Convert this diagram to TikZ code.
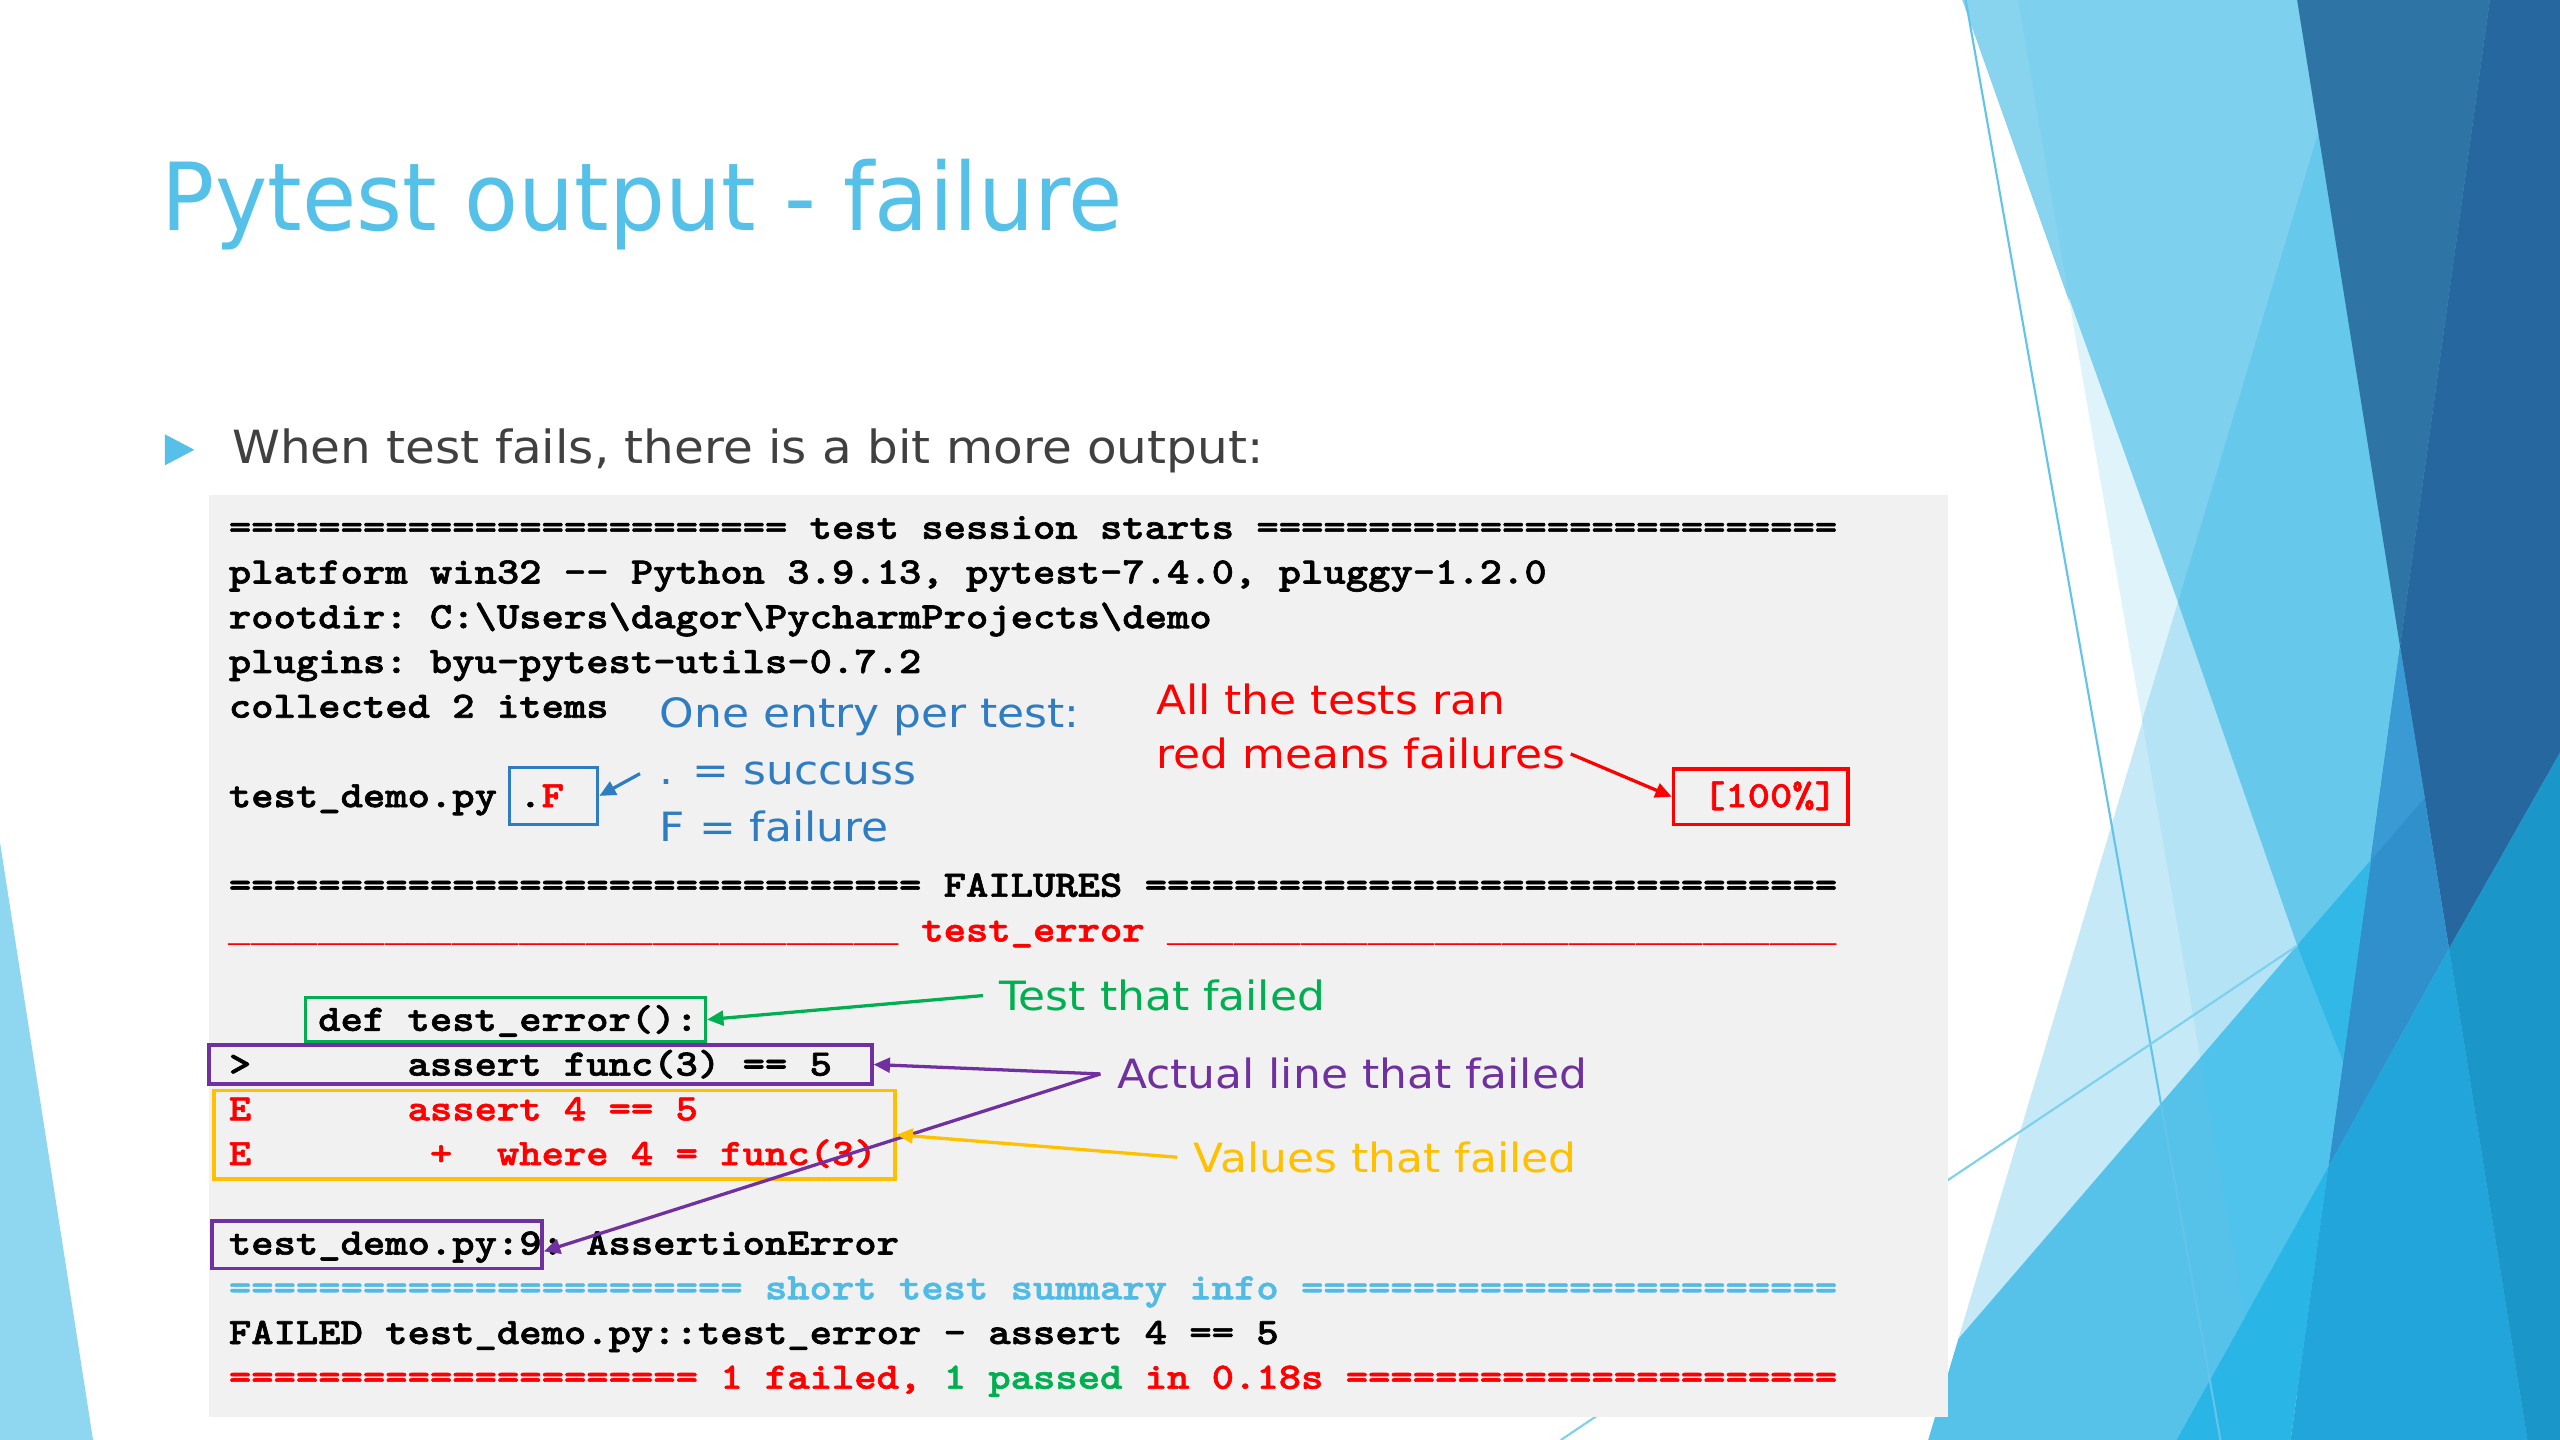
\documentclass[tikz,border=0pt]{standalone}
\usepackage{fontspec}
\setmainfont{DejaVu Sans}[FakeStretch=1.06]
\newfontfamily\notefont{DejaVu Sans}[FakeStretch=1.09]
\newfontfamily\titlefont{DejaVu Sans}[FakeStretch=0.94]
\newfontfamily\codefont{lmmonolt10-bold.otf}[FakeStretch=1.143,FakeBold=1.6]
\newfontfamily\rulefont{Liberation Mono}[FakeStretch=0.9999]
\usetikzlibrary{arrows.meta}
\ExplSyntaxOn
\cs_new:Npn \myrep #1#2 { \prg_replicate:nn {#1} {#2} }
\ExplSyntaxOff
\newcommand\unders[1]{{\rulefont\bfseries\myrep{#1}{\_}}}
\definecolor{ctitle}{HTML}{55C0E8}
\definecolor{cbody}{HTML}{404040}
\definecolor{cgray}{HTML}{F1F1F1}
\definecolor{cred}{HTML}{FF0000}
\definecolor{cgreen}{HTML}{00B050}
\definecolor{cpurple}{HTML}{7030A0}
\definecolor{cyellow}{HTML}{FFC000}
\definecolor{cblue}{HTML}{2E7DC3}
\definecolor{csum}{HTML}{50BCE6}
\definecolor{cA}{HTML}{7DD0EE}
\definecolor{cAs}{HTML}{88D4EF}
\definecolor{cVL}{HTML}{DFF3FB}
\definecolor{cLa}{HTML}{C5E9F6}
\definecolor{cLb}{HTML}{B3E3F5}
\definecolor{cM}{HTML}{66C8EB}
\definecolor{cDa}{HTML}{2E75A6}
\definecolor{cDb}{HTML}{25679E}
\definecolor{cDc}{HTML}{3A9AD4}
\definecolor{cDd}{HTML}{3090CC}
\definecolor{cBa}{HTML}{56C2EA}
\definecolor{cBb}{HTML}{4FC3EB}
\definecolor{cBc}{HTML}{31B8E6}
\definecolor{cTa}{HTML}{29B5E5}
\definecolor{cTb}{HTML}{21A5DA}
\definecolor{cTc}{HTML}{1A96C9}
\definecolor{cW}{HTML}{8FD6F0}
\definecolor{cthin}{HTML}{62C4EA}
\tikzset{
  code/.style={font=\codefont\fontsize{22.8}{27.4}\selectfont\frenchspacing, anchor=base west, inner sep=0pt, text=black},
  note/.style={font=\notefont\fontsize{24.7}{35}\selectfont, anchor=base west, inner sep=0pt},
  hl/.style={draw=#1, line width=2.2pt, inner sep=0pt},
  arr/.style={draw=#1, line width=2pt, -{Triangle[length=10pt,width=9pt]}},
}
\newcommand\codeln[4]{\node[code] (#1) at ({140+13.68*#3},{330+27.4*#2}) {#4};}
\begin{document}
\begin{tikzpicture}[x=1pt,y=-1pt]
\useasboundingbox (0,0) rectangle (1568,882);
\fill[white] (0,0) rectangle (1568,882);
% background decoration
\fill[cW] (0,516) -- (57,882) -- (0,882) -- cycle;
\fill[cA] (1202,0) -- (1568,0) -- (1568,882) -- (1407,882) -- (1407,579) -- cycle;
\fill[cAs] (1202,0) -- (1236,0) -- (1267,182) -- cycle;
\fill[cVL] (1267,182) -- (1334,369) -- (1312,441) -- cycle;
\fill[cLa] (1334,369) -- (1407,579) -- (1199.5,820) -- cycle;
\fill[cLb] (1312,441) -- (1334,369) -- (1407,579) -- (1347.7,648) -- cycle;
\fill[cM] (1420,81) -- (1334,369) -- (1407,579) -- (1568,392) -- (1568,0) -- (1407,0) -- cycle;
\fill[cDa] (1407,0) -- (1525,0) -- (1470,396) -- cycle;
\fill[cDb] (1525,0) -- (1568,0) -- (1568,461) -- (1500,581) -- (1470,396) -- cycle;
\fill[cDd] (1470,396) -- (1500,581) -- (1426,715) -- cycle;
\fill[cDc] (1470,396) -- (1485.2,488.5) -- (1452.2,526.7) -- cycle;
\fill[cBa] (1181,882) -- (1199.5,820) -- (1407,579) -- (1452.2,526.7) -- (1426,715) -- (1333,882) -- cycle;
\fill[cBb] (1347.7,648) -- (1407,579) -- (1435.1,650.2) -- (1426,715) -- (1375,806.8) -- cycle;
\fill[cBc] (1407,579) -- (1452.2,526.7) -- (1435.1,650.2) -- cycle;
\fill[cTa] (1333,882) -- (1426,715) -- (1403,882) -- cycle;
\fill[cTb] (1426,715) -- (1500,581) -- (1548,882) -- (1403,882) -- cycle;
\fill[cTc] (1500,581) -- (1568,461) -- (1568,882) -- (1548,882) -- cycle;
\draw[cthin, line width=1.3pt] (1204,0) -- (1360,882);
\draw[cA, line width=1.3pt] (956,882) -- (1407.3,579);
% console background
\fill[cgray] (128,303) rectangle (1193,868);
% title and bullet
\node[font=\titlefont\fontsize{57.5}{60}\selectfont, text=ctitle, anchor=base west, inner sep=0pt] (title) at (99,141) {Pytest output - failure};
\fill[ctitle] (101,266) -- (119,275.5) -- (101,285) -- cycle;
\node[font=\fontsize{28}{34}\selectfont, text=cbody, anchor=base west, inner sep=0pt] (intro) at (142,284) {When test fails, there is a bit more output:};
% console lines
\codeln{l0}{0}{0}{\myrep{25}{=} test session starts \myrep{26}{=}}
\codeln{l1}{1}{0}{platform win32 -{}- Python 3.9.13, pytest-7.4.0, pluggy-1.2.0}
\codeln{l2}{2}{0}{rootdir: C:\textbackslash Users\textbackslash dagor\textbackslash PycharmProjects\textbackslash demo}
\codeln{l3}{3}{0}{plugins: byu-pytest-utils-0.7.2}
\codeln{l4}{4}{0}{collected 2 items}
\codeln{l6}{6}{0}{test\_demo.py .\textcolor{cred}{F}}
\codeln{pct}{6}{66}{\textcolor{cred}{[100\%]}}
\codeln{l8}{8}{0}{\myrep{31}{=} FAILURES \myrep{31}{=}}
\codeln{l9}{9}{0}{\color{cred}\unders{30} test\_error \unders{30}}
\codeln{l11}{11}{4}{def test\_error():}
\codeln{l12}{12}{0}{>~~~~~~~assert func(3) == 5}
\codeln{l13}{13}{0}{\color{cred}E~~~~~~~assert 4 == 5}
\codeln{l14}{14}{0}{\color{cred}E~~~~~~~~+~~where 4 = func(3)}
\codeln{l16}{16}{0}{test\_demo.py:9: AssertionError}
\codeln{l17}{17}{0}{\color{csum}\myrep{23}{=} short test summary info \myrep{24}{=}}
\codeln{l18}{18}{0}{FAILED test\_demo.py::test\_error - assert 4 == 5}
\codeln{l19}{19}{0}{\color{cred}\myrep{21}{=} 1 failed, \textcolor{cgreen}{1 passed} in 0.18s \myrep{22}{=}}
% highlight boxes
\node[hl=cblue, minimum width=54pt, minimum height=35pt] (fbox) at (339,487.5) {};
\node[hl=cred, minimum width=107pt, minimum height=34pt] (pctbox) at (1078.5,488) {};
\node[hl=cgreen, minimum width=245pt, minimum height=27pt] (defbox) at (309.5,624.5) {};
\node[hl=cpurple, minimum width=406pt, minimum height=24pt] (abox) at (331,652) {};
\node[hl=cyellow, minimum width=417pt, minimum height=54pt] (valbox) at (339.5,695) {};
\node[hl=cpurple, minimum width=202pt, minimum height=29pt] (lbox) at (231,762.5) {};
% annotations
\node[note, text=cblue] (one) at (404,445.6) {One entry per test:};
\node[note, text=cblue] (succ) at (404,480.6) {. = succuss};
\node[note, text=cblue] (fail) at (404,515.6) {F = failure};
\node[note, text=cred] (allran) at (708,437.5) {All the tests ran};
\node[note, text=cred] (redmeans) at (708,471) {red means failures};
\node[note, text=cgreen] (tfail) at (612,619) {Test that failed};
\node[note, text=cpurple] (actual) at (684,667) {Actual line that failed};
\node[note, text=cyellow] (values) at (731,718) {Values that failed};
% connectors
\draw[arr=cblue] ([xshift=-12pt]succ.west) -- (fbox.east);
\draw[arr=cred] ([xshift=3pt]redmeans.east) -- (pctbox.west);
\draw[arr=cgreen] ([xshift=-10pt]tfail.west) -- (defbox.east);
\draw[arr=cpurple] ([xshift=-10pt]actual.west) -- (abox.east);
\draw[arr=cpurple] ([xshift=-10pt]actual.west) -- ([yshift=-4pt]lbox.east);
\draw[arr=cyellow] ([xshift=-10pt]values.west) -- (valbox.east);
\end{tikzpicture}
\end{document}
